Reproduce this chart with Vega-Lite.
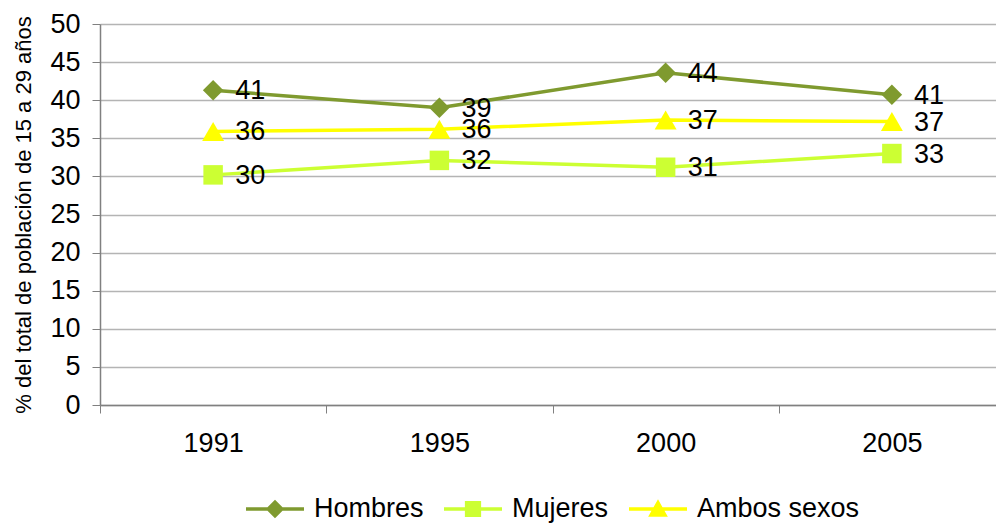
{
  "$schema": "https://vega.github.io/schema/vega-lite/v6.json",
  "autosize": "none",
  "padding": {"left": 100, "top": 24, "right": 0, "bottom": 121},
  "width": 905,
  "height": 381,
  "background": "white",
  "config": {
    "view": {"stroke": null},
    "font": "Liberation Sans",
    "axis": {"labelFont": "Liberation Sans", "titleFont": "Liberation Sans", "labelColor": "black", "titleColor": "black"},
    "legend": {"padding": 0, "labelLimit": 400}
  },
  "data": {
    "values": [
      {"year": "1991", "serie": "Hombres", "value": 41.3},
      {"year": "1995", "serie": "Hombres", "value": 39.0},
      {"year": "2000", "serie": "Hombres", "value": 43.6},
      {"year": "2005", "serie": "Hombres", "value": 40.7},
      {"year": "1991", "serie": "Mujeres", "value": 30.2},
      {"year": "1995", "serie": "Mujeres", "value": 32.1},
      {"year": "2000", "serie": "Mujeres", "value": 31.2},
      {"year": "2005", "serie": "Mujeres", "value": 33.0},
      {"year": "1991", "serie": "Ambos sexos", "value": 35.9},
      {"year": "1995", "serie": "Ambos sexos", "value": 36.2},
      {"year": "2000", "serie": "Ambos sexos", "value": 37.4},
      {"year": "2005", "serie": "Ambos sexos", "value": 37.2}
    ]
  },
  "encoding": {
    "x": {
      "field": "year", "type": "ordinal",
      "scale": {"type": "band", "paddingInner": 0, "paddingOuter": 0},
      "axis": {"title": null, "labelAngle": 0, "labelFontSize": 27, "tickBand": "extent", "tickSize": 8, "tickColor": "#808080", "domainColor": "#808080", "domainWidth": 1.5, "labelPadding": 17, "grid": false}
    },
    "y": {
      "field": "value", "type": "quantitative",
      "scale": {"domain": [0, 50], "nice": false, "zero": true},
      "axis": {"title": "% del total de población de 15 a 29 años", "titleFontSize": 22, "titleFontWeight": "normal", "titlePadding": 14, "values": [0,5,10,15,20,25,30,35,40,45,50], "labelFontSize": 27, "tickSize": 8, "tickColor": "#808080", "domainColor": "#808080", "domainWidth": 1.5, "labelPadding": 12, "grid": true, "gridColor": "#b4b4b4", "gridWidth": 1.5}
    },
    "color": {
      "field": "serie", "type": "nominal",
      "scale": {"domain": ["Hombres", "Mujeres", "Ambos sexos"], "range": ["#7F9A2F", "#CCFF33", "#FFFF00"]},
      "legend": {
        "title": null, "orient": "none", "legendX": 146, "legendY": 456, "direction": "horizontal",
        "labelFontSize": 27, "labelFont": "Liberation Sans", "labelColor": "black", "labelLimit": 400,
        "symbolSize": 3364, "symbolStrokeWidth": 0, "symbolOpacity": 1, "labelOffset": 10, "columnPadding": 20
      }
    }
  },
  "layer": [
    {
      "mark": {"type": "line", "strokeWidth": 3.5},
      "encoding": {}
    },
    {
      "transform": [{"filter": "datum.serie === 'Hombres'"}],
      "mark": {"type": "point", "filled": true, "opacity": 1, "shape": "diamond", "size": 420},
      "encoding": {}
    },
    {
      "transform": [{"filter": "datum.serie === 'Mujeres'"}],
      "mark": {"type": "point", "filled": true, "opacity": 1, "shape": "square", "size": 380},
      "encoding": {}
    },
    {
      "transform": [{"filter": "datum.serie === 'Ambos sexos'"}],
      "mark": {"type": "point", "filled": true, "opacity": 1, "shape": "triangle-up", "size": 480},
      "encoding": {}
    },
    {
      "mark": {"type": "point", "filled": true, "opacity": 0},
      "encoding": {
        "shape": {
          "field": "serie", "type": "nominal",
          "scale": {"domain": ["Hombres", "Mujeres", "Ambos sexos"], "range": ["M-1,-0.06L1,-0.06L1,0.06L-1,0.06Z M0,-0.32L0.32,0L0,0.32L-0.32,0Z", "M-1,-0.06L1,-0.06L1,0.06L-1,0.06Z M-0.28,-0.28L0.28,-0.28L0.28,0.28L-0.28,0.28Z", "M-1,-0.06L1,-0.06L1,0.06L-1,0.06Z M0,-0.34L0.34,0.27L-0.34,0.27Z"]},
          "legend": {
            "title": null, "orient": "none", "legendX": 146, "legendY": 456, "direction": "horizontal",
            "labelFontSize": 27, "labelFont": "Liberation Sans", "labelColor": "black", "labelLimit": 400,
            "symbolSize": 3364, "symbolStrokeWidth": 0, "symbolOpacity": 1, "labelOffset": 10, "columnPadding": 20
          }
        }
      }
    },
    {
      "mark": {"type": "text", "align": "left", "baseline": "middle", "dx": 22, "dy": 1, "fontSize": 27, "font": "Liberation Sans", "color": "black"},
      "encoding": {
        "text": {"field": "value", "type": "quantitative", "format": ".0f"},
        "color": {"value": "black"}
      }
    }
  ]
}
